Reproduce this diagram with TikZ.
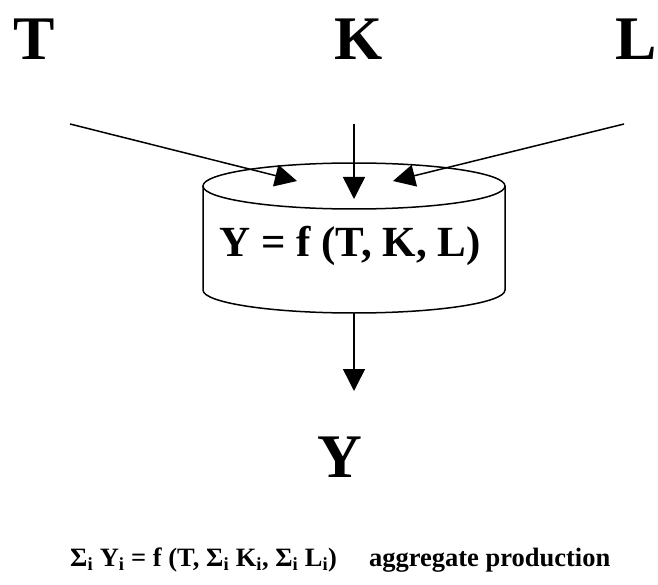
\documentclass[tikz,border=0pt]{standalone}
\usepackage{fontspec}
\setmainfont{Liberation Serif}
\usetikzlibrary{arrows.meta}
\tikzset{
  conn/.style={line width=1.5pt, -{Triangle[length=22pt,width=22pt]}},
  big/.style={font=\bfseries\fontsize{62}{62}\selectfont, anchor=base, inner sep=0pt},
  formula/.style={font=\bfseries\fontsize{43}{43}\selectfont, anchor=base, inner sep=0pt},
  caption/.style={font=\bfseries\fontsize{26.5}{26.5}\selectfont, anchor=base west, inner sep=0pt},
  body/.style={line width=1.5pt, fill=white}
}
\begin{document}
\begin{tikzpicture}[x=1pt,y=-1pt]
\useasboundingbox (0,0) rectangle (658,585);
% labels
\node[big] (T) at (34,60) {T};
\node[big] (K) at (359,60) {K};
\node[big] (L) at (636,60) {L};
% cylinder
\draw[body] (203,186) -- (203,290) arc[start angle=180, end angle=0, x radius=151, y radius=23] -- (505,186);
\draw[body] (354,186) ellipse[x radius=151, y radius=23];
\coordinate (cylbot) at (354,313);
\node[formula] (f) at (350,257) {Y = f (T, K, L)};
% input arrow ends
\coordinate (tstart) at (70,124);
\coordinate (kstart) at (354,124);
\coordinate (lstart) at (624,124);
\coordinate (tin) at (297,181);
\coordinate (kin) at (354,199);
\coordinate (lin) at (393,181);
\draw[conn] (tstart) -- (tin);
\draw[conn] (kstart) -- (kin);
\draw[conn] (lstart) -- (lin);
% output
\node[big] (Y) at (340,477) {Y};
\coordinate (yin) at (354,391);
\draw[conn] (cylbot) -- (yin);
% caption
\node[caption] (agg) at (70,566) {Σ\textsubscript{i} Y\textsubscript{i} = f (T, Σ\textsubscript{i} K\textsubscript{i}, Σ\textsubscript{i} L\textsubscript{i})\hspace{32pt}aggregate production};
\end{tikzpicture}
\end{document}
